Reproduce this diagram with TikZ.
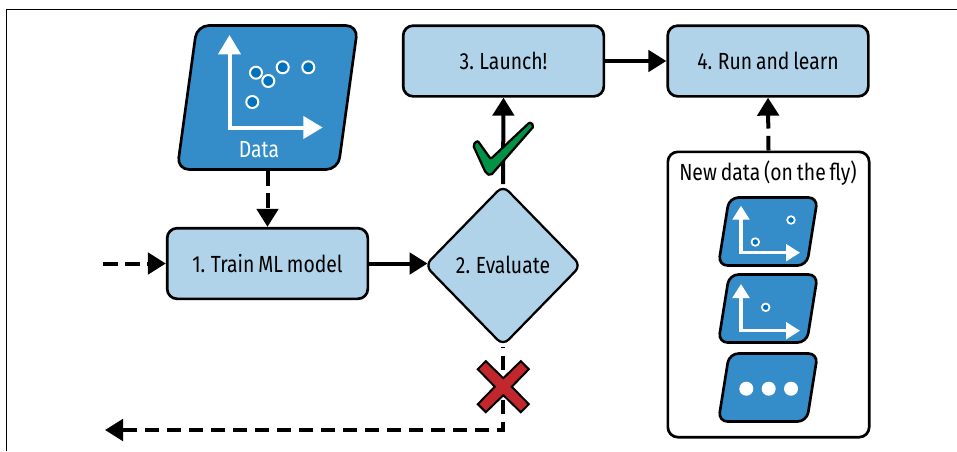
\documentclass[tikz,border=0pt]{standalone}
\usepackage{fontspec}
\setmainfont[FakeStretch=0.83,WordSpace=0.75]{Fira Sans}
\usepackage{tikz}
\usetikzlibrary{arrows.meta,backgrounds,positioning,shapes.geometric}
\definecolor{boxblue}{HTML}{B0D3EA}
\definecolor{datablue}{HTML}{348DC9}
\definecolor{dotblue}{HTML}{0071BC}
\definecolor{okgreen}{HTML}{009245}
\definecolor{nored}{HTML}{C1272D}
\tikzset{>={Triangle[length=13.5pt,width=16pt]},
         every node/.style={inner sep=0pt,font=\fontsize{17.5}{19}\selectfont},
         stepbox/.style={draw,line width=2pt,rounded corners=7.5pt,fill=boxblue,minimum width=150.5pt,minimum height=53pt},
         decision/.style={diamond,draw,line width=1.7pt,rounded corners=6pt,fill=boxblue,minimum width=117.5pt,minimum height=120.5pt},
         flow/.style={->,line width=3pt},
         dashflow/.style={flow,dash pattern=on 11pt off 5.5pt},
         card/.style={trapezium,trapezium stretches=true,trapezium left angle=82,trapezium right angle=98,
                      inner sep=1pt,draw,line width=2pt,fill=datablue},
         bigcard/.style={card,rounded corners=9pt,minimum width=135.5pt,minimum height=108pt},
         smallcard/.style={card,rounded corners=7pt,minimum width=74.5pt,minimum height=51pt},
         axis/.style={white,line width=3pt,{Triangle[length=14.5pt,width=16.5pt]}-{Triangle[length=14.5pt,width=16.5pt]}},
         smallaxis/.style={white,line width=2.3pt,{Triangle[length=10.5pt,width=12.5pt]}-{Triangle[length=10.5pt,width=12.5pt]}},
         point/.style={circle,draw=white,fill=dotblue,line width=1.5pt,minimum size=9pt},
         smallpoint/.style={circle,draw=white,fill=dotblue,line width=1.3pt,minimum size=5.7pt},
         morepoint/.style={circle,fill=white,minimum size=10.5pt}}
\begin{document}
\begin{tikzpicture}[x=0.75pt,y=-0.75pt]
\useasboundingbox (0,0) rectangle (957,451);
\draw[line width=0.8pt] (6.5,451) -- (6.5,9.5) -- (957,9.5);
% training data
\node[bigcard] (data) at (267.5,97.5) {};
\draw[axis] (229.5,35) -- (229.5,127.5) -- (322.7,127.5);
\node[point] (p1) at (256,72.7) {};
\node[point] (p2) at (268.3,81) {};
\node[point] (p3) at (282.7,67.3) {};
\node[point] (p4) at (308.3,67.3) {};
\node[point] (p5) at (252.3,102) {};
\node[white] (datalabel) at (259,149.5) {Data};
% the four steps
\node[stepbox] (train) at (267.5,263.5) {1. Train ML model};
\node[decision] (evaluate) at (503,265.5) {\raisebox{1pt}{2. Evaluate}};
\node[stepbox] (launch) at (503.5,61) {3. Launch!};
\node[stepbox] (run) at (768,61) {4. Run and learn};
% new data
\node[draw,line width=2pt,rounded corners=7.5pt,fill=white,minimum width=151pt,minimum height=214pt] (news) at (768.5,294.5) {};
\node (newslabel) at (768,173) {New data (on the fly)};
\node[smallcard] (card1) at (768,231.5) {};
\draw[smallaxis] (741,205.7) -- (741,252.7) -- (800,252.7);
\node[smallpoint] (c1) at (755.3,242) {};
\node[smallpoint] (c2) at (791,220) {};
\node[smallcard] (card2) at (768,308.5) {};
\draw[smallaxis] (741,284) -- (741,330.7) -- (800,330.7);
\node[smallpoint] (c3) at (765.7,307.3) {};
\node[smallcard] (card3) at (768,387.5) {};
\node[morepoint] (m1) at (746.3,388.7) {};
\node[morepoint] (m2) at (768.7,388.7) {};
\node[morepoint] (m3) at (791,388.7) {};
% free ends
\coordinate (entry) at (103,263.5);
\coordinate (exit) at (105,430);
\coordinate (bend) at (evaluate.south |- exit);
\coordinate (arrive) at (train.east -| evaluate.west);
% connectors
\begin{scope}[on background layer]
\path[flow] (evaluate.north) edge (launch.south);
\draw[dashflow,dash phase=10pt] (evaluate.south) -- (bend) -- (exit);
\end{scope}
\path[flow] (train.east) edge[shorten >=-3pt] (arrive)
(launch.east) edge (run.west);
\path[dashflow] (data.south) edge (train.north)
(entry) edge (train.west)
(news.north) edge (run.south);
% verdict marks
\draw[line width=1.7pt,rounded corners=1.5pt,fill=okgreen] (473,145) -- (477.5,140.5) -- (490.7,159) -- (530,122) -- (534,126) -- (490.7,175.5) -- (486,173.3) -- cycle;
\draw[line width=1.5pt,fill=nored,shift={(503.3,386.7)}] (0,-8.5) -- (17.5,-25.5) -- (25.5,-17.5) -- (8.5,0) -- (25.5,17.5) -- (17.5,25.5) -- (0,8.5) -- (-17.5,25.5) -- (-25.5,17.5) -- (-8.5,0) -- (-25.5,-17.5) -- (-17.5,-25.5) -- cycle;
\end{tikzpicture}
\end{document}
